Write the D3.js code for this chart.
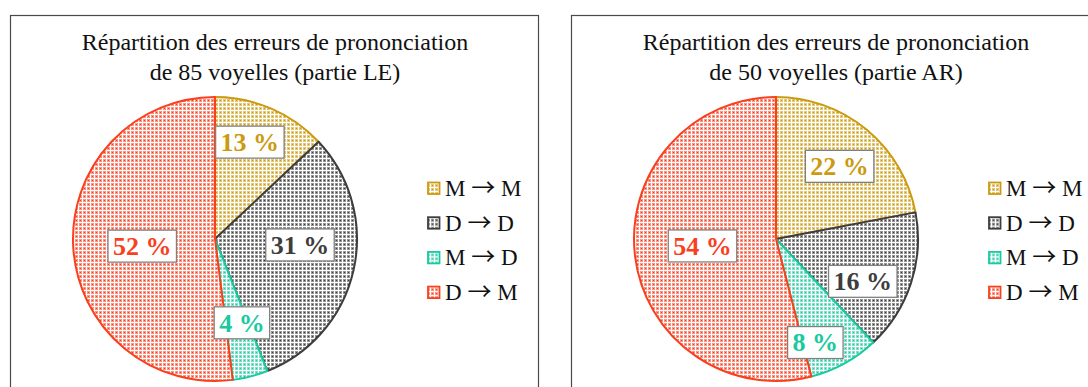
<!DOCTYPE html>
<html>
<head>
<meta charset="utf-8">
<script src="https://cdn.jsdelivr.net/npm/d3@7"></script>
<style>
  html, body { margin: 0; padding: 0; background: #fff; }
  svg { display: block; }
</style>
</head>
<body>
<svg id="chart" width="1088" height="387"></svg>
<script>
// Error categories (target → produced)
const catFrom = ["M", "D", "M", "D"];
const catTo = ["M", "D", "D", "M"];
const categories = catFrom.map((f, i) => f + " \u2192 " + catTo[i]);
// Share of pronunciation errors, in percent
const valuesLE = [13, 31, 4, 52];
const valuesAR = [22, 16, 8, 54];
const titlesLE = ["Répartition des erreurs de prononciation", "de 85 voyelles (partie LE)"];
const titlesAR = ["Répartition des erreurs de prononciation", "de 50 voyelles (partie AR)"];

const colors = ["#cc9a10", "#3d3d3d", "#19c9a0", "#f8401f"];

const svg = d3.select("#chart");
const defs = svg.append("defs");

// Dotted grid fill, one per category colour
colors.forEach((c, i) => {
  const p = defs.append("pattern")
    .attr("id", "pat" + i)
    .attr("patternUnits", "userSpaceOnUse")
    .attr("width", 4).attr("height", 4);
  p.append("rect").attr("width", 4).attr("height", 4).attr("fill", "#fff");
  p.append("rect").attr("x", 0).attr("y", 0).attr("width", 3).attr("height", 3)
    .attr("fill", c).attr("opacity", 0.55);
  p.append("rect").attr("x", 1).attr("y", 1).attr("width", 1).attr("height", 1)
    .attr("fill", c);
});

const color = d3.scaleOrdinal().domain(categories).range(colors);
const serif = "'Liberation Serif', 'Times New Roman', serif";
const arrowFont = "'Noto Sans CJK JP', 'DejaVu Serif', serif";

// labelPlace: [fraction of radius, angular nudge in degrees] per slice
function drawPanel(x0, values, titles, labelPlace) {
  const g = svg.append("g").attr("transform", `translate(${x0},0)`);
  const boxW = 528;

  g.append("rect")
    .attr("x", 0.5).attr("y", 15.5)
    .attr("width", boxW).attr("height", 400)
    .attr("fill", "#fff").attr("stroke", "#4a4a4a").attr("stroke-width", 1.2);

  g.append("text")
    .attr("font-family", serif).attr("font-size", 24)
    .attr("text-anchor", "middle").attr("fill", "#111")
    .selectAll("tspan").data(titles).join("tspan")
    .attr("x", boxW / 2 + 1)
    .attr("y", (d, i) => 50 + i * 30)
    .text(d => d);

  const cx = 205, cy = 239, r = 142;
  const data = categories.map((c, i) => ({ cat: c, value: values[i] }));
  const pie = d3.pie().sort(null).value(d => d.value);
  const arcs = pie(data);
  const arc = d3.arc().innerRadius(0).outerRadius(r);

  const pg = g.append("g").attr("transform", `translate(${cx},${cy})`);
  pg.selectAll("path.slice").data(arcs).join("path")
    .attr("class", "slice")
    .attr("d", arc)
    .attr("fill", (d, i) => `url(#pat${i})`)
    .attr("stroke", d => color(d.data.cat))
    .attr("stroke-width", 2)
    .attr("stroke-linejoin", "round");

  // Value labels in white boxes
  const lg = pg.selectAll("g.lbl").data(arcs).join("g").attr("class", "lbl");
  lg.each(function (d, i) {
    const a = (d.startAngle + d.endAngle) / 2 + labelPlace[i][1] * Math.PI / 180;
    const rr = r * labelPlace[i][0];
    const lx = Math.sin(a) * rr, ly = -Math.cos(a) * rr;
    const sel = d3.select(this).attr("transform", `translate(${lx},${ly})`);
    const rect = sel.append("rect");
    const t = sel.append("text")
      .attr("font-family", serif).attr("font-size", 26).attr("font-weight", "bold")
      .attr("text-anchor", "middle").attr("dy", "0.34em")
      .attr("fill", color(d.data.cat))
      .text(d.data.value + " %");
    const bb = t.node().getBBox();
    const padX = 5, h = 32;
    rect.attr("x", -bb.width / 2 - padX).attr("y", -h / 2)
      .attr("width", bb.width + 2 * padX).attr("height", h)
      .attr("fill", "#fff").attr("stroke", "#808080").attr("stroke-width", 1.3);
  });

  // Legend
  const leg = g.append("g").attr("transform", "translate(417,188)");
  const rows = leg.selectAll("g").data(categories).join("g")
    .attr("transform", (d, i) => `translate(0,${i * 34.7})`);
  rows.append("rect")
    .attr("x", 1).attr("y", -5.5).attr("width", 11.5).attr("height", 11.5)
    .attr("fill", (d, i) => `url(#pat${i})`)
    .attr("stroke", d => color(d)).attr("stroke-width", 1.8);
  const lt = rows.append("text")
    .attr("x", 18).attr("dy", "0.35em")
    .attr("font-family", serif).attr("font-size", 23).attr("fill", "#111");
  lt.append("tspan").text((d, i) => catFrom[i] + " ");
  lt.append("tspan").attr("font-family", arrowFont).attr("font-size", 24).text("\u2192");
  lt.append("tspan").text((d, i) => " " + catTo[i]);
}

drawPanel(10, valuesLE, titlesLE, [[0.725, -3.6], [0.6, -8.6], [0.62, -3.4], [0.515, -2]]);
drawPanel(571, valuesAR, titlesAR, [[0.68, 1.6], [0.68, 8], [0.78, 8], [0.52, 1.8]]);
</script>
</body>
</html>
